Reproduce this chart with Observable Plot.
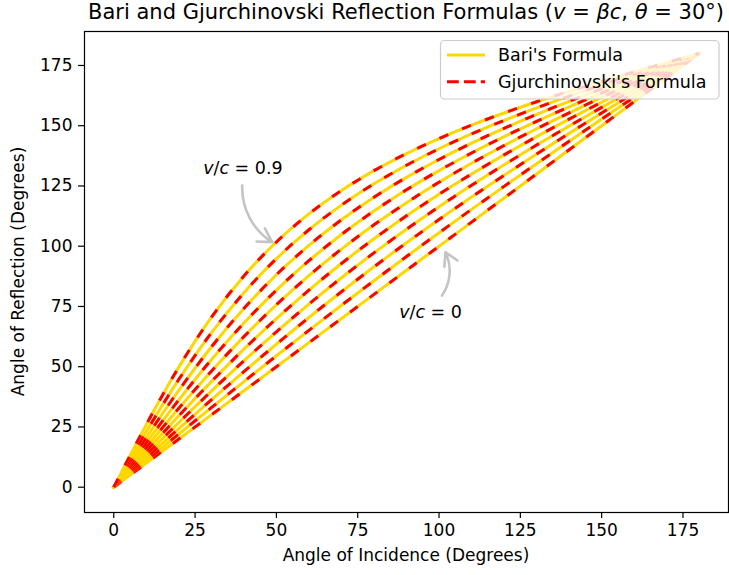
<!DOCTYPE html>
<html><head><meta charset="utf-8">
<script src="https://cdn.jsdelivr.net/npm/d3@7"></script>
<script src="https://cdn.jsdelivr.net/npm/@observablehq/plot@0.6"></script>
<style>
body{margin:0;background:#fff;}
#chart{width:729px;height:575px;}
</style>
</head><body><div id="chart"></div>
<script>
// Angle of incidence (degrees)
const incidence = [0,10,20,30,40,50,60,70,80,90,100,110,120,130,140,150,160,170,180];
// v/c values of the curves
const vcValues = [0,0.1,0.2,0.3,0.4,0.5,0.6,0.7,0.8,0.9];
// Angle of reflection (degrees), one array per v/c
const refl_00 = [0,10,20,30,40,50,60,70,80,90,100,110,120,130,140,150,160,170,180];
const refl_01 = [0,11.05,22.06,32.99,43.83,54.53,65.09,75.48,85.69,95.72,105.59,115.29,124.84,134.25,143.55,152.75,161.87,170.95,180];
const refl_02 = [0,12.21,24.32,36.27,47.96,59.35,70.42,81.11,91.45,101.42,111.06,120.38,129.43,138.23,146.83,155.27,163.58,171.81,180];
const refl_03 = [0,13.50,26.84,39.85,52.43,64.49,75.99,86.90,97.25,107.06,116.39,125.27,133.78,141.97,149.89,157.60,165.15,172.60,180];
const refl_04 = [0,14.95,29.63,43.79,57.27,69.94,81.79,92.81,103.07,112.62,121.55,129.95,137.90,145.46,152.72,159.74,166.59,173.32,180];
const refl_05 = [0,16.59,32.75,48.13,62.48,75.71,87.80,98.81,108.87,118.07,126.55,134.42,141.79,148.74,155.36,161.73,167.92,173.99,180];
const refl_06 = [0,18.46,36.26,52.91,68.11,81.79,93.99,104.88,114.62,123.40,131.37,138.68,145.46,151.81,157.82,163.58,169.15,174.61,180];
const refl_07 = [0,20.60,40.23,58.19,74.17,88.17,100.35,110.97,120.31,128.58,136.00,142.74,148.93,154.69,160.12,165.30,170.29,175.18,180];
const refl_08 = [0,23.08,44.73,64.03,80.68,94.83,106.83,117.06,125.89,133.60,140.44,146.59,152.20,157.40,162.27,166.90,171.36,175.71,180];
const refl_09 = [0,25.98,49.86,70.48,87.64,101.75,113.39,123.11,131.35,138.46,144.69,150.25,155.29,159.94,164.28,168.39,172.35,176.20,180];
const reflSeries = [refl_00,refl_01,refl_02,refl_03,refl_04,refl_05,refl_06,refl_07,refl_08,refl_09];

const xTicks = [0,25,50,75,100,125,150,175];
const yTicks = [0,25,50,75,100,125,150,175];

// annotations: label, text anchor point, arrow start and arrow tip (data coords)
const annotations = [
  {label: "v/c = 0.9", tx: 39.7, ty: 132.2, x1: 39.5, y1: 125.2, x2: 48.7, y2: 101.7},
  {label: "v/c = 0",   tx: 97.4, ty: 72.6,  x1: 100.9, y1: 79.5, x2: 102.0, y2: 97.5}
];

const rows = [];
vcValues.forEach((b, i) => {
  incidence.forEach((x, j) => rows.push({beta: b, x, y: reflSeries[i][j]}));
});

const BARI = "#FFD700";
const GJ = "#FF0000";
const FONT = "DejaVu Sans, Liberation Sans, sans-serif";

const lineMarks = [];
vcValues.forEach(b => {
  const d = rows.filter(r => r.beta === b);
  lineMarks.push(Plot.line(d, {x: "x", y: "y", stroke: BARI, strokeWidth: 3.0, curve: "monotone-x", strokeLinecap: "square"}));
  lineMarks.push(Plot.line(d, {x: "x", y: "y", stroke: GJ, strokeWidth: 3.0, curve: "monotone-x", strokeDasharray: "9.5,15", strokeLinecap: "butt"}));
});

const plot = Plot.plot({
  width: 729, height: 575,
  marginLeft: 84, marginRight: 1, marginTop: 31, marginBottom: 63,
  style: {fontFamily: FONT, fontSize: "17px", color: "#000", background: "#fff"},
  x: {domain: [-9, 189]},
  y: {domain: [-10.5, 189.1]},
  marks: [
    ...lineMarks,
    Plot.arrow(annotations, {x1: "x1", y1: "y1", x2: "x2", y2: "y2", bend: -30, stroke: "#c4c4c4", strokeWidth: 2.6, headLength: 9}),
    Plot.text(annotations, {x: "tx", y: "ty", text: "label", fontSize: 17.5, fill: "#000"}),
    Plot.frame({stroke: "#000", strokeWidth: 1.2}),
    Plot.axisX({ticks: xTicks, tickSize: 6, tickPadding: 5, label: null, stroke: "#000", strokeWidth: 1.2}),
    Plot.axisY({ticks: yTicks, tickSize: 6, tickPadding: 6, label: null, stroke: "#000", strokeWidth: 1.2})
  ]
});

document.getElementById("chart").appendChild(plot);
const svg = d3.select(plot);

// mathtext-style italics in annotations
svg.selectAll("text").each(function() {
  const t = this.textContent;
  if (t === "v/c = 0.9" || t === "v/c = 0") {
    const rest = t.slice(3);
    this.textContent = "";
    const s = d3.select(this);
    s.append("tspan").attr("font-style", "italic").text("v");
    s.append("tspan").text("/");
    s.append("tspan").attr("font-style", "italic").text("c");
    s.append("tspan").text(rest);
  }
});

// Title
const title = svg.append("text").attr("x", 406).attr("y", 19).attr("text-anchor", "middle")
  .attr("font-family", FONT).attr("font-size", 21).attr("fill", "#000");
title.append("tspan").text("Bari and Gjurchinovski Reflection Formulas (");
title.append("tspan").attr("font-style", "italic").text("v");
title.append("tspan").text(" = ");
title.append("tspan").attr("font-style", "italic").text("βc");
title.append("tspan").text(", ");
title.append("tspan").attr("font-style", "italic").text("θ");
title.append("tspan").text(" = 30°)");

// Axis labels
svg.append("text").attr("x", 406).attr("y", 561).attr("text-anchor", "middle")
  .attr("font-family", FONT).attr("font-size", 17).attr("fill", "#000")
  .text("Angle of Incidence (Degrees)");
svg.append("text").attr("transform", "translate(24,271.5) rotate(-90)").attr("text-anchor", "middle")
  .attr("font-family", FONT).attr("font-size", 17).attr("fill", "#000")
  .text("Angle of Reflection (Degrees)");

// Legend (upper right, semi-transparent frame like matplotlib)
const lg = svg.append("g");
lg.append("rect").attr("x", 440.5).attr("y", 40.5).attr("width", 278.5).attr("height", 58.5)
  .attr("rx", 4).attr("fill", "#fff").attr("fill-opacity", 0.8).attr("stroke", "#cccccc").attr("stroke-width", 1.2);
lg.append("line").attr("x1", 447).attr("x2", 485).attr("y1", 55).attr("y2", 55)
  .attr("stroke", BARI).attr("stroke-width", 3.0);
lg.append("line").attr("x1", 447).attr("x2", 485).attr("y1", 81.7).attr("y2", 81.7)
  .attr("stroke", GJ).attr("stroke-width", 3.0).attr("stroke-dasharray", "11.8,5.1");
lg.append("text").attr("x", 498).attr("y", 61.3).attr("text-anchor", "start").attr("font-family", FONT).attr("font-size", 17.5).attr("fill", "#000").text("Bari's Formula");
lg.append("text").attr("x", 498).attr("y", 88).attr("text-anchor", "start").attr("font-family", FONT).attr("font-size", 17.5).attr("fill", "#000").text("Gjurchinovski's Formula");
</script>
</body></html>
